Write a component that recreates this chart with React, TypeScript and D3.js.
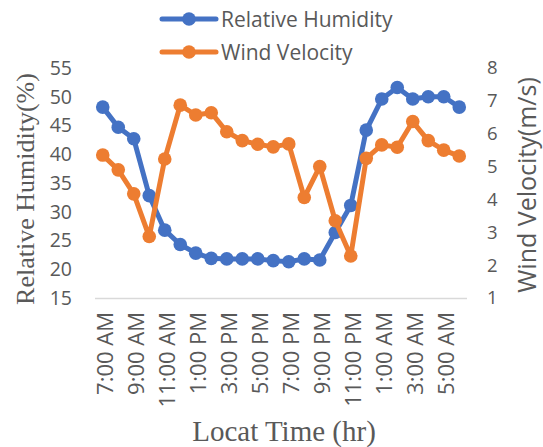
import React from "react";
import * as d3 from "d3";

const times = [
  "7:00 AM","8:00 AM","9:00 AM","10:00 AM","11:00 AM","12:00 PM",
  "1:00 PM","2:00 PM","3:00 PM","4:00 PM","5:00 PM","6:00 PM",
  "7:00 PM","8:00 PM","9:00 PM","10:00 PM","11:00 PM","12:00 AM",
  "1:00 AM","2:00 AM","3:00 AM","4:00 AM","5:00 AM","6:00 AM",
];
const humidity = [48.2,44.7,42.7,32.8,26.8,24.3,22.8,21.9,21.8,21.8,21.8,21.5,21.3,21.8,21.6,26.4,31.1,44.2,49.6,51.6,49.6,50.0,50.0,48.2];
const wind = [5.35,4.9,4.17,2.87,5.23,6.87,6.57,6.64,6.06,5.79,5.68,5.6,5.69,4.06,5.0,3.35,2.28,5.25,5.66,5.59,6.37,5.79,5.5,5.32];
const leftTicks = [15,20,25,30,35,40,45,50,55];
const rightTicks = [1,2,3,4,5,6,7,8];

const W = 543, H = 447;
const left = 95, right = 467, top = 68, bottom = 298;
const BLUE = "#4472C4", ORANGE = "#ED7D31", GRAY = "#595959";
const SANS = "'Open Sans', 'Noto Sans', sans-serif";
const SERIF = "'Liberation Serif', 'Times New Roman', serif";

export default function App() {
  const x = d3.scaleBand<string>().domain(times).range([left, right]);
  const cx = (t: string) => (x(t) as number) + x.bandwidth() / 2;
  const yL = d3.scaleLinear().domain([15, 55]).range([bottom, top]);
  const yR = d3.scaleLinear().domain([1, 8]).range([bottom, top]);
  const lineH = d3.line<number>().x((_, i) => cx(times[i])).y((d) => yL(d));
  const lineW = d3.line<number>().x((_, i) => cx(times[i])).y((d) => yR(d));
  const labelTimes = times.filter((_, i) => i % 2 === 0);

  return (
    <svg width={W} height={H} style={{ position: "absolute", left: 0, top: 0, background: "#fff" }}>
      <rect width={W} height={H} fill="#fff" />
      {/* legend */}
      <g>
        <line x1={162} x2={216} y1={19} y2={19} stroke={BLUE} strokeWidth={5} strokeLinecap="round" />
        <circle cx={189} cy={19} r={6.8} fill={BLUE} />
        <text x={221} y={27} fontFamily={SANS} fontSize={21} fill={GRAY}>Relative Humidity</text>
        <line x1={162} x2={216} y1={52} y2={52} stroke={ORANGE} strokeWidth={5} strokeLinecap="round" />
        <circle cx={189} cy={52} r={6.8} fill={ORANGE} />
        <text x={221} y={60} fontFamily={SANS} fontSize={21} fill={GRAY}>Wind Velocity</text>
      </g>
      {/* axis line */}
      <line x1={left} x2={right} y1={bottom + 0.5} y2={bottom + 0.5} stroke="#D9D9D9" strokeWidth={1.5} />
      {/* left ticks */}
      {leftTicks.map((t) => (
        <text key={"l" + t} x={72} y={yL(t)} dy="0.35em" textAnchor="end" fontFamily={SANS} fontSize={19.5} fill={GRAY}>{t}</text>
      ))}
      {rightTicks.map((t) => (
        <text key={"r" + t} x={487} y={yR(t)} dy="0.35em" textAnchor="start" fontFamily={SANS} fontSize={18.5} fill={GRAY}>{t}</text>
      ))}
      {/* x labels */}
      {labelTimes.map((t) => (
        <text key={t} transform={`translate(${cx(t) + 10},${bottom + 14}) rotate(-90)`} textAnchor="end" fontFamily={SANS} fontSize={22} fill={GRAY}>{t}</text>
      ))}
      {/* axis titles */}
      <text transform={`translate(34,189) rotate(-90)`} textAnchor="middle" fontFamily={SERIF} fontSize={26} fill={GRAY}>Relative Humidity(%)</text>
      <text transform={`translate(536,185) rotate(-90)`} textAnchor="middle" fontFamily={SANS} fontSize={25} fill={GRAY}>Wind Velocity(m/s)</text>
      <text x={284} y={441} textAnchor="middle" fontFamily={SERIF} fontSize={29} fill={GRAY}>Locat Time (hr)</text>
      {/* series */}
      <path d={lineH(humidity) || ""} fill="none" stroke={BLUE} strokeWidth={5} strokeLinejoin="round" />
      {humidity.map((v, i) => (
        <circle key={"h" + i} cx={cx(times[i])} cy={yL(v)} r={6.8} fill={BLUE} />
      ))}
      <path d={lineW(wind) || ""} fill="none" stroke={ORANGE} strokeWidth={5} strokeLinejoin="round" />
      {wind.map((v, i) => (
        <circle key={"w" + i} cx={cx(times[i])} cy={yR(v)} r={6.8} fill={ORANGE} />
      ))}
    </svg>
  );
}
